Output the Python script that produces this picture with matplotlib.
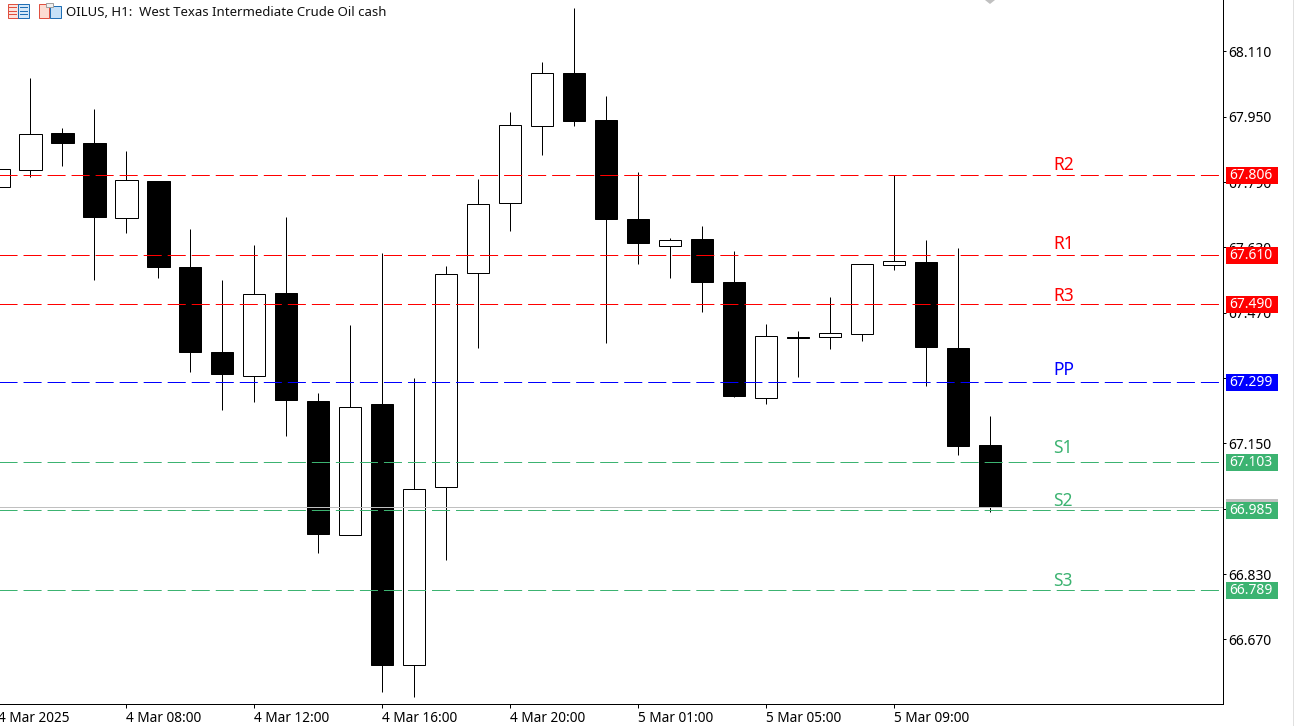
import matplotlib
matplotlib.use("Agg")
import matplotlib.pyplot as plt
from matplotlib.patches import Rectangle, Polygon
from matplotlib.transforms import blended_transform_factory, Affine2D

plt.rcParams["font.family"] = ["Noto Sans", "DejaVu Sans"]
plt.rcParams["lines.scale_dashes"] = False

# =====================
# Chart data
# =====================
opens = [67.778, 67.820, 67.910, 67.886, 67.702, 67.793, 67.582, 67.374, 67.315, 67.518, 67.254,
         66.926, 67.247, 66.607, 67.043, 67.567, 67.739, 67.927, 68.057, 67.942, 67.700, 67.634,
         67.651, 67.545, 67.261, 67.411, 67.411, 67.418, 67.587, 67.594, 67.384, 67.146]
closes = [67.822, 67.908, 67.886, 67.705, 67.795, 67.582, 67.374, 67.320, 67.516, 67.256, 66.928,
          67.239, 66.607, 67.038, 67.565, 67.736, 67.930, 68.057, 67.940, 67.700, 67.641, 67.648,
          67.545, 67.266, 67.413, 67.408, 67.420, 67.589, 67.597, 67.386, 67.144, 66.994]
highs = [67.822, 68.045, 67.923, 67.969, 67.866, 67.793, 67.675, 67.550, 67.636, 67.705, 67.274,
         67.440, 67.616, 67.310, 67.585, 67.798, 67.962, 68.084, 68.216, 68.000, 67.815, 67.653,
         67.683, 67.621, 67.443, 67.425, 67.509, 67.589, 67.807, 67.648, 67.629, 67.217]
lows = [67.778, 67.803, 67.829, 67.550, 67.665, 67.555, 67.325, 67.232, 67.252, 67.168, 66.882,
        66.926, 66.541, 66.529, 66.865, 67.384, 67.670, 67.856, 67.927, 67.396, 67.589, 67.555,
        67.472, 67.264, 67.247, 67.313, 67.381, 67.401, 67.575, 67.291, 67.122, 66.982]

level_names = ["R2", "R1", "R3", "PP", "S1", "S2", "S3"]
level_values = [67.806, 67.610, 67.490, 67.299, 67.103, 66.985, 66.789]
level_colors = ["#ff0000", "#ff0000", "#ff0000", "#0000ff", "#3cb371", "#3cb371", "#3cb371"]
label_prices = [67.831, 67.639, 67.511, 67.331, 67.140, 67.010, 66.814]

price_ticks = [68.110, 67.950, 67.790, 67.630, 67.470, 67.310, 67.150, 66.990, 66.830, 66.670]
time_ticks = [0, 4, 8, 12, 16, 20, 24, 28]
time_labels = ["4 Mar 2025", "4 Mar 08:00", "4 Mar 12:00", "4 Mar 16:00",
               "4 Mar 20:00", "5 Mar 01:00", "5 Mar 05:00", "5 Mar 09:00"]
last_price = 66.994

W, H = 1294, 726
fig = plt.figure(figsize=(W / 100, H / 100), dpi=100, facecolor="white")

# axes starts a bit off the left edge, first candle and its label get cut there
ax = fig.add_axes([-6 / W, 22 / H, 1229 / W, 704 / H])
ax.set_xlim(-0.14, 38.27)
ax.set_ylim(66.512, 68.236)

px = 0.72  # one pixel in points

# =====================
# Candles
# =====================
xs = list(range(len(opens)))
ax.vlines(xs, lows, highs, color="black", lw=px, zorder=2)
for x, o, c in zip(xs, opens, closes):
    ax.bar(x, abs(c - o), bottom=min(o, c), width=0.69, facecolor="white" if c >= o else "black",
           edgecolor="black", lw=px, zorder=3)

# =====================
# Pivot levels
# =====================
tr = blended_transform_factory(ax.transAxes, ax.transData)
to_px = 1 / 1229
upp = (68.236 - 66.512) / 704  # price per pixel

def price_tag(value, color, zorder):
    x0 = (1226 + 6) * to_px
    ax.add_patch(Rectangle((x0, value - 8.5 * upp), 52 * to_px, 17 * upp, transform=tr,
                           facecolor=color, edgecolor="none", clip_on=False, zorder=zorder))

ax.axhline(last_price, color="#c0c0c0", lw=px, zorder=4)
price_tag(last_price, "#c0c0c0", 6)

for name, value, color, label_y in zip(level_names, level_values, level_colors, label_prices):
    # nudge so the snapped 1px line lands on the same pixel row as the reference
    ax.axhline(value + 0.6 * upp, color=color, lw=px, dashes=(13, 4.3), zorder=5)
    ax.text((1054 + 5) * to_px, label_y, name, color=color, fontsize=12.5,
            transform=tr, ha="left", va="center", zorder=7)
    price_tag(value, color, 7)
    ax.text((1229 + 6) * to_px, value, f"{value:.3f}", color="white", fontsize=10,
            transform=tr, ha="left", va="center", clip_on=False, zorder=8)

# =====================
# Axes styling
# =====================
ax.spines["left"].set_visible(False)
ax.spines["top"].set_visible(False)
ax.spines["right"].set_linewidth(px)
ax.spines["bottom"].set_linewidth(px)

ax.yaxis.tick_right()
ax.set_yticks(price_ticks)
ax.set_yticklabels([f"{t:.3f}" for t in price_ticks], fontsize=10)
ax.tick_params(axis="y", length=2.5, width=px, pad=1.2)

ax.set_xticks(time_ticks)
ax.set_xticklabels(time_labels, fontsize=9.8, ha="left")
ax.tick_params(axis="x", length=3, width=px, pad=2)
ax.set_axisbelow(False)

# =====================
# Header and window bits, in pixel coords from the top left
# =====================
pix = Affine2D().scale(1, -1).translate(0, H)

def box(x, y, w, h, fc, ec="none"):
    fig.add_artist(Rectangle((x, y), w, h, transform=pix, facecolor=fc, edgecolor=ec, lw=px))

box(7.5, 3.5, 10.5, 14, "#fbe3de", "#e05040")
box(18, 3.5, 10.5, 14, "#d5e8f8", "#1f6fb5")
for y in (7, 10.5, 14):
    box(9, y, 8, 1.2, "#e05040")
    box(19.5, y, 8, 1.2, "#1f6fb5")
box(39, 4, 10, 14, "#fcdcd2", "#e05040")
box(50, 6, 10.5, 12, "#c5e0f7", "#1f6fb5")
box(46, 3, 7, 4, "#f0f0f0", "#a0a0a0")

fig.text(66 / W, 1 - 12.5 / H, "OILUS, H1:  West Texas Intermediate Crude Oil cash",
         fontsize=9.5, color="#111111", ha="left", va="center")

fig.add_artist(Polygon([(985, 0), (995, 0), (990, 4)], transform=pix, facecolor="#c0c0c0", edgecolor="none"))
box(1292.5, 0, 1.5, H, "#e0e0e0")

fig.savefig("out.png", dpi=100)
